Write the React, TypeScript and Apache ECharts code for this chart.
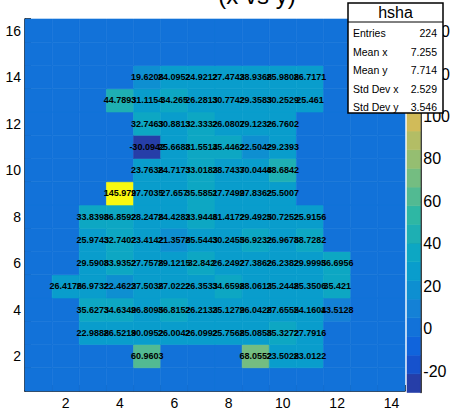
import React, { useEffect, useRef } from 'react';
import * as echarts from 'echarts';

// ---- data -------------------------------------------------------------
const xBins = [1, 2, 3, 4, 5, 6, 7, 8, 9, 10, 11, 12, 13, 14];
const yBins = [1, 2, 3, 4, 5, 6, 7, 8, 9, 10, 11, 12, 13, 14, 15, 16];
// bin contents per y bin, x = 1..14 (0 = empty bin)
const rowY1 = [0, 0, 0, 0, 0, 0, 0, 0, 0, 0, 0, 0, 0, 0];
const rowY2 = [0, 0, 0, 0, 60.9603, 0, 0, 0, 68.0552, 23.5028, 23.0122, 0, 0, 0];
const rowY3 = [0, 0, 22.9888, 26.5219, 30.0952, 26.0042, 26.0992, 25.7568, 25.0858, 35.3272, 27.7916, 0, 0, 0];
const rowY4 = [0, 0, 35.6273, 34.6349, 26.8095, 36.8152, 26.2133, 25.1279, 26.0428, 27.6555, 24.1604, 13.5128, 0, 0];
const rowY5 = [0, 26.4176, 26.9732, 22.4623, 27.5038, 27.0222, 26.3533, 34.6598, 28.0613, 25.2448, 25.3506, 35.421, 0, 0];
const rowY6 = [0, 0, 29.5908, 33.9352, 27.7578, 29.1215, 32.842, 26.2492, 27.3862, 26.2382, 29.9995, 36.6956, 0, 0];
const rowY7 = [0, 0, 25.9743, 32.7402, 23.4142, 21.3578, 25.5443, 30.2455, 36.9232, 26.9678, 38.7282, 0, 0, 0];
const rowY8 = [0, 0, 33.8398, 36.8592, 28.2478, 24.4282, 33.9446, 31.4172, 29.4925, 30.7252, 25.9156, 0, 0, 0];
const rowY9 = [0, 0, 0, 145.979, 27.7035, 27.657, 35.5851, 27.7499, 27.8362, 25.5007, 0, 0, 0, 0];
const rowY10 = [0, 0, 0, 0, 23.7638, 24.7173, 33.0183, 28.7437, 30.0448, 48.6842, 0, 0, 0, 0];
const rowY11 = [0, 0, 0, 0, -30.0942, 25.6688, 31.5514, 35.4462, 22.5042, 29.2393, 0, 0, 0, 0];
const rowY12 = [0, 0, 0, 0, 32.7463, 30.8813, 32.3332, 26.0807, 29.1232, 26.7602, 0, 0, 0, 0];
const rowY13 = [0, 0, 0, 44.7893, 31.1154, 34.265, 26.2813, 30.7742, 29.3583, 30.2529, 25.461, 0, 0, 0];
const rowY14 = [0, 0, 0, 0, 19.6208, 24.0952, 24.9212, 27.4743, 28.9368, 25.9808, 26.7171, 0, 0, 0];
const rowY15 = [0, 0, 0, 0, 0, 0, 0, 0, 0, 0, 0, 0, 0, 0];
const rowY16 = [0, 0, 0, 0, 0, 0, 0, 0, 0, 0, 0, 0, 0, 0];
const rows = [rowY1, rowY2, rowY3, rowY4, rowY5, rowY6, rowY7, rowY8, rowY9, rowY10, rowY11, rowY12, rowY13, rowY14, rowY15, rowY16];

const xTickLabels = [2, 4, 6, 8, 10, 12, 14];
const yTickLabels = [2, 4, 6, 8, 10, 12, 14, 16];
const zTickLabels = [-20, 0, 20, 40, 60, 80, 100, 120, 140];

const histTitle = '(x vs y)';
const statsName = 'hsha';
const statLabels = ['Entries', 'Mean x', 'Mean y', 'Std Dev x', 'Std Dev y'];
const statValues = ['224', '7.255', '7.714', '2.529', '3.546'];

// ---- palette (ROOT kBird) --------------------------------------------
const birdStops = [0.0, 0.125, 0.25, 0.375, 0.5, 0.625, 0.75, 0.875, 1.0];
const birdR = [0.2082, 0.0592, 0.078, 0.0232, 0.1802, 0.5301, 0.8186, 0.9956, 0.9764];
const birdG = [0.1664, 0.3599, 0.5041, 0.6419, 0.7178, 0.7492, 0.7328, 0.7862, 0.9832];
const birdB = [0.5293, 0.8684, 0.8385, 0.7914, 0.6425, 0.4662, 0.3499, 0.1968, 0.0539];
const nColors = 255;
const nContours = 20;

function paletteColor(k: number): string {
  let idx = 0;
  for (let g = 1; g < birdStops.length; g++) {
    const n = Math.floor(birdStops[g] * nColors) - Math.floor(birdStops[g - 1] * nColors);
    if (k < idx + n || g === birdStops.length - 1) {
      const f = Math.min(1, (k - idx) / n);
      const r = birdR[g - 1] + f * (birdR[g] - birdR[g - 1]);
      const gg = birdG[g - 1] + f * (birdG[g] - birdG[g - 1]);
      const b = birdB[g - 1] + f * (birdB[g] - birdB[g - 1]);
      return `rgb(${Math.round(r * 255)},${Math.round(gg * 255)},${Math.round(b * 255)})`;
    }
    idx += n;
  }
  return '#000';
}

const allValues = rows.flat();
const zMin = Math.min(...allValues);
const zMax = Math.max(...allValues);

function bandColor(band: number): string {
  let k = Math.floor((band + 0.99) * nColors / nContours);
  if (k > nColors - 1) k = nColors - 1;
  return paletteColor(k);
}
function valueColor(v: number): string {
  const band = Math.floor(0.01 + (v - zMin) * nContours / (zMax - zMin));
  return bandColor(band);
}
function fmt(v: number): string {
  return String(parseFloat(v.toPrecision(6)));
}

const cellData: number[][] = [];
const labelData: number[][] = [];
rows.forEach((row, ri) => {
  row.forEach((v, xi) => {
    cellData.push([xBins[xi], yBins[ri], v]);
    if (v !== 0) labelData.push([xBins[xi], yBins[ri], v]);
  });
});
const bandData = Array.from({ length: nContours }, (_, i) => [i]);

const xMinor: number[] = [];
for (let v = 1; v <= 14.5; v += 0.5) if (v % 2 !== 0) xMinor.push(v);
const yMinor: number[] = [];
for (let v = 1; v <= 16.5; v += 0.5) if (v % 2 !== 0) yMinor.push(v);

const FONT = 'Liberation Sans, Arial, Helvetica, sans-serif';

export default function App() {
  const ref = useRef<HTMLDivElement>(null);
  useEffect(() => {
    const chart = echarts.init(ref.current!, undefined, { renderer: 'svg' });
    const gridPlot = { left: 25, top: 19, width: 380, height: 373.5 };
    const statsZ = 100;
    const option: any = {
      animation: false,
      backgroundColor: '#fff',
      textStyle: { fontFamily: FONT },
      grid: [
        { ...gridPlot, containLabel: false },
        { left: 407, top: 19, width: 21, height: 373.5, containLabel: false },
      ],
      xAxis: [
        {
          gridIndex: 0, type: 'value', min: 0.5, max: 14.5, position: 'bottom',
          axisLine: { onZero: false, lineStyle: { color: '#000', width: 1.5 } },
          axisTick: { show: true, inside: true, length: 11, customValues: xTickLabels, lineStyle: { color: '#000', width: 1.5 } },
          axisLabel: { customValues: xTickLabels, fontSize: 14, color: '#000', margin: 5, fontFamily: FONT },
          splitLine: { show: false },
        },
        {
          gridIndex: 0, type: 'value', min: 0.5, max: 14.5, position: 'bottom',
          axisLine: { show: false, onZero: false },
          axisTick: { show: true, inside: true, length: 6, customValues: xMinor, lineStyle: { color: '#000', width: 1.5 } },
          axisLabel: { show: false },
          splitLine: { show: false },
        },
        { gridIndex: 1, type: 'value', min: 0, max: 1, show: false },
      ],
      yAxis: [
        {
          gridIndex: 0, type: 'value', min: 0.5, max: 16.5, position: 'left',
          axisLine: { onZero: false, lineStyle: { color: '#000', width: 1.5 } },
          axisTick: { show: true, inside: true, length: 11, customValues: yTickLabels, lineStyle: { color: '#000', width: 1.5 } },
          axisLabel: { customValues: yTickLabels, fontSize: 14, color: '#000', margin: 4, fontFamily: FONT },
          splitLine: { show: false },
        },
        {
          gridIndex: 0, type: 'value', min: 0.5, max: 16.5, position: 'left',
          axisLine: { show: false, onZero: false },
          axisTick: { show: true, inside: true, length: 6, customValues: yMinor, lineStyle: { color: '#000', width: 1.5 } },
          axisLabel: { show: false },
          splitLine: { show: false },
        },
        {
          gridIndex: 1, type: 'value', min: zMin, max: zMax, position: 'right',
          axisLine: { onZero: false, lineStyle: { color: '#000', width: 1.5 } },
          axisTick: { show: true, inside: true, length: 11, customValues: zTickLabels, lineStyle: { color: '#000', width: 1.5 } },
          axisLabel: { customValues: zTickLabels, fontSize: 16, color: '#000', margin: 3, fontFamily: FONT },
          splitLine: { show: false },
        },
      ],
      series: [
        {
          type: 'custom', xAxisIndex: 0, yAxisIndex: 0, data: cellData, z: 1,
          renderItem: (_p: any, api: any) => {
            const x = api.value(0), y = api.value(1), v = api.value(2);
            const a = api.coord([x - 0.5, y + 0.5]);
            const b = api.coord([x + 0.5, y - 0.5]);
            const col = valueColor(v);
            return {
              type: 'rect',
              shape: { x: a[0], y: a[1], width: b[0] - a[0], height: b[1] - a[1] },
              style: { fill: col, stroke: col, lineWidth: 0.6 },
            };
          },
        },
        {
          type: 'custom', xAxisIndex: 0, yAxisIndex: 0, data: labelData, z: 3,
          renderItem: (_p: any, api: any) => {
            const x = api.value(0), y = api.value(1), v = api.value(2);
            const c = api.coord([x, y]);
            return {
              type: 'text', x: c[0], y: c[1],
              style: { text: fmt(v), fill: '#000', fontSize: 9, fontWeight: 'bold', fontFamily: FONT, align: 'center', verticalAlign: 'middle' },
            };
          },
        },
        {
          type: 'custom', xAxisIndex: 2, yAxisIndex: 2, data: bandData, z: 1,
          renderItem: (_p: any, api: any) => {
            const i = api.value(0);
            const dz = (zMax - zMin) / nContours;
            const lo = zMin + i * dz, hi = lo + dz;
            const a = api.coord([0, hi]);
            const b = api.coord([1, lo]);
            const col = bandColor(i);
            return {
              type: 'rect',
              shape: { x: a[0], y: a[1], width: b[0] - a[0], height: b[1] - a[1] },
              style: { fill: col, stroke: col, lineWidth: 0.6 },
            };
          },
        },
      ],
      graphic: [
        {
          type: 'text', x: 257, y: -5, z: 50,
          style: { text: histTitle, fontSize: 24, fill: '#000', fontFamily: FONT, align: 'center', verticalAlign: 'middle' },
        },
        { type: 'rect', z: statsZ, shape: { x: 348, y: 3, width: 95, height: 110 }, style: { fill: '#fff', stroke: '#000', lineWidth: 1.5 } },
        { type: 'line', z: statsZ + 1, shape: { x1: 348, y1: 22, x2: 443, y2: 22 }, style: { stroke: '#000', lineWidth: 1 } },
        { type: 'text', z: statsZ + 1, x: 395.5, y: 12.5, style: { text: statsName, fontSize: 16, fill: '#000', fontFamily: FONT, align: 'center', verticalAlign: 'middle' } },
        ...statLabels.map((s, i) => ({
          type: 'text', z: statsZ + 1, x: 353, y: 33 + i * 18.5,
          style: { text: s, fontSize: 10.5, fill: '#000', fontFamily: FONT, align: 'left', verticalAlign: 'middle' },
        })),
        ...statValues.map((s, i) => ({
          type: 'text', z: statsZ + 1, x: 437, y: 33 + i * 18.5,
          style: { text: s, fontSize: 10.5, fill: '#000', fontFamily: FONT, align: 'right', verticalAlign: 'middle' },
        })),
      ],
    };
    chart.setOption(option);
    return () => chart.dispose();
  }, []);
  return <div ref={ref} style={{ position: 'fixed', left: 0, top: 0, width: 453, height: 410, background: '#fff' }} />;
}
